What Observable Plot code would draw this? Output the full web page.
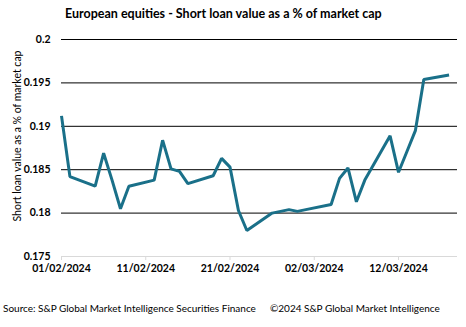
<!DOCTYPE html>
<html>
<head>
<meta charset="utf-8">
<script src="https://cdn.jsdelivr.net/npm/d3@7"></script>
<script src="https://cdn.jsdelivr.net/npm/@observablehq/plot@0.6"></script>
<style>
  html, body { margin: 0; padding: 0; background: #fff; }
  body { width: 466px; height: 327px; position: relative; overflow: hidden; font-family: Lato, "Open Sans", sans-serif; }
  #title { position: absolute; left: 65px; top: 6px; font-size: 12.5px; font-weight: bold; color: #000; white-space: nowrap; }
  #chart { position: absolute; left: 0; top: 25px; }
  #source { position: absolute; left: 3px; top: 302px; font-size: 10px; color: #000; white-space: nowrap; }
  #copy { position: absolute; left: 270px; top: 302px; font-size: 10px; color: #000; white-space: nowrap; }
</style>
</head>
<body>
<div id="title">European equities - Short loan value as a % of market cap</div>
<div id="chart"></div>
<div id="source">Source: S&amp;P Global Market Intelligence Securities Finance</div>
<div id="copy">©2024 S&amp;P Global Market Intelligence</div>
<script>
const dates = ["2024-02-01","2024-02-02","2024-02-05","2024-02-06","2024-02-07","2024-02-08","2024-02-09",
  "2024-02-12","2024-02-13","2024-02-14","2024-02-15","2024-02-16",
  "2024-02-19","2024-02-20","2024-02-21","2024-02-22","2024-02-23",
  "2024-02-26","2024-02-27","2024-02-28","2024-02-29","2024-03-01",
  "2024-03-04","2024-03-05","2024-03-06","2024-03-07","2024-03-08",
  "2024-03-11","2024-03-12","2024-03-13","2024-03-14","2024-03-15","2024-03-18"];
const values = [0.1912,0.1842,0.1831,0.1869,0.1838,0.1805,0.1831,
  0.1838,0.1884,0.1851,0.1848,0.1834,
  0.1843,0.1863,0.1853,0.1803,0.1780,
  0.1800,0.1802,0.1804,0.1802,0.1804,
  0.1810,0.1840,0.1852,0.1813,0.1838,
  0.1889,0.1847,0.1871,0.1895,0.1954,0.1959];
const xTicks = ["2024-02-01","2024-02-11","2024-02-21","2024-03-02","2024-03-12"];
const xDomain = ["2024-02-01","2024-03-19"];
const yTicks = [0.175,0.18,0.185,0.19,0.195,0.2];
const yTickLabels = ["0.175","0.18","0.185","0.19","0.195","0.2"];
const yTitle = "Short loan value as a % of market cap";

const data = dates.map((d, i) => ({date: new Date(d + "T00:00:00Z"), value: values[i]}));
const xt = xTicks.map(d => new Date(d + "T00:00:00Z"));
const fmt = d3.utcFormat("%d/%m/%Y");

const plot = Plot.plot({
  width: 466,
  height: 251,
  marginTop: 14,
  marginLeft: 61,
  marginRight: 9,
  marginBottom: 20,
  style: {fontFamily: "Lato, 'Open Sans', sans-serif", fontSize: "10px", color: "#000", background: "transparent", overflow: "visible"},
  x: {type: "utc", domain: xDomain.map(d => new Date(d + "T00:00:00Z")), label: null},
  y: {domain: [0.175, 0.2], label: null},
  marks: [
    Plot.ruleY(yTicks.slice(1), {stroke: "#000", strokeWidth: 1}),
    Plot.ruleY([yTicks[0]], {stroke: "#d9d9d9", strokeWidth: 1}),
    Plot.axisY(yTicks, {tickSize: 0, tickPadding: 11, tickFormat: (d) => yTickLabels[yTicks.indexOf(d)], fontWeight: "bold", fontSize: 10.5, label: null}),
    Plot.axisX(xt, {tickSize: 4, stroke: "#d9d9d9", tickFormat: () => "", label: null}),
    Plot.axisX(xt, {tickSize: 0, tickPadding: 8, tickFormat: fmt, fontWeight: "bold", fontSize: 10.5, label: null}),
    Plot.line(data, {x: "date", y: "value", stroke: "#1a7089", strokeWidth: 3, strokeLinejoin: "miter", strokeLinecap: "butt"})
  ]
});
d3.select(plot).append("text")
  .attr("transform", "translate(21,111) rotate(-90)")
  .attr("text-anchor", "middle")
  .attr("font-size", "10.5px")
  .attr("fill", "#000")
  .text(yTitle);
document.getElementById("chart").appendChild(plot);
</script>
</body>
</html>
